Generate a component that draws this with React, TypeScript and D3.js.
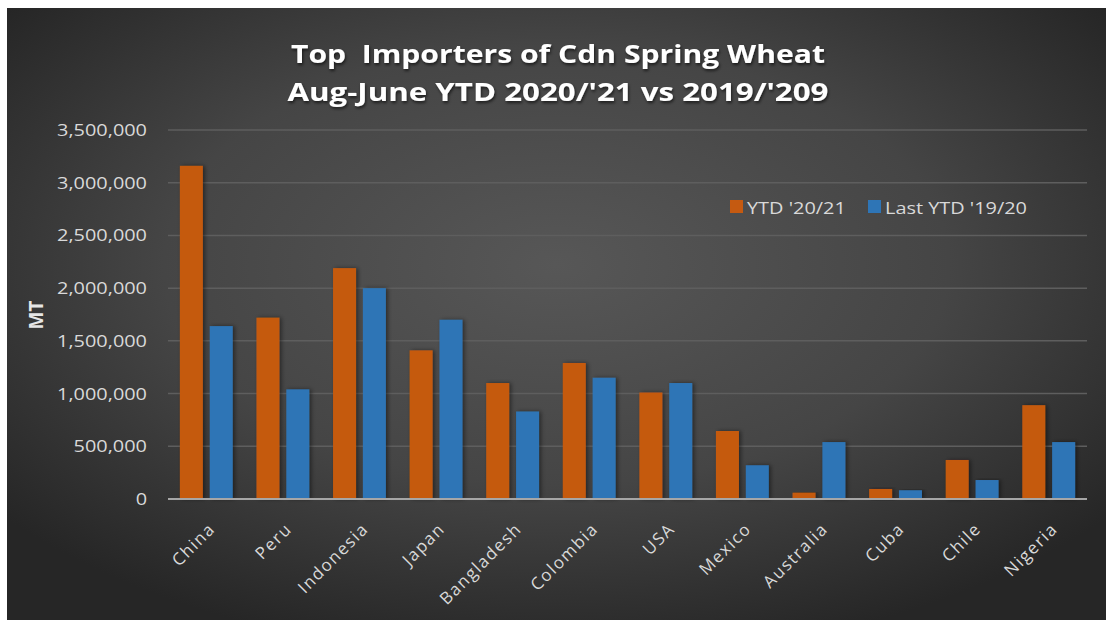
import React from "react";
import * as d3 from "d3";

const categories = ["China", "Peru", "Indonesia", "Japan", "Bangladesh", "Colombia", "USA", "Mexico", "Australia", "Cuba", "Chile", "Nigeria"];
const ytd2021 = [3160000, 1720000, 2190000, 1410000, 1100000, 1290000, 1010000, 645000, 60000, 95000, 370000, 890000];
const ytd1920 = [1640000, 1040000, 2000000, 1700000, 830000, 1150000, 1100000, 320000, 540000, 83000, 180000, 540000];
const seriesNames = ["YTD '20/21", "Last YTD '19/20"];
const seriesColors = ["#C55A11", "#2E75B6"];
const yTicks = [0, 500000, 1000000, 1500000, 2000000, 2500000, 3000000, 3500000];
const titleLines = ["Top  Importers of Cdn Spring Wheat", "Aug-June YTD 2020/'21 vs 2019/'209"];

const W = 1106;
const H = 620;
const SX = 1.17;

export default function App() {
  const x = d3.scaleBand<string>().domain(categories).range([168, 1087]).padding(0);
  const step = x.step();
  const sub = d3.scaleBand<string>().domain(seriesNames).range([step * 0.155, step * 0.845]).paddingInner(0.23);
  const y = d3.scaleLinear().domain([0, 3500000]).range([499, 130]);
  const fmt = d3.format(",");
  const series = [ytd2021, ytd1920];
  const font = "'Open Sans', 'DejaVu Sans', sans-serif";
  const titleLens = [534, 541];
  return (
    <svg width={W} height={H} style={{ position: "absolute", left: 0, top: 0 }}>
      <defs>
        <radialGradient id="bg" cx="50%" cy="42%" r="65%">
          <stop offset="0%" stopColor="#575757" />
          <stop offset="55%" stopColor="#454545" />
          <stop offset="100%" stopColor="#262626" />
        </radialGradient>
        <filter id="sh" x="-30%" y="-10%" width="160%" height="120%">
          <feDropShadow dx="2" dy="0" stdDeviation="2" floodColor="#000" floodOpacity="0.45" />
        </filter>
        <filter id="tsh" x="-10%" y="-30%" width="120%" height="160%">
          <feDropShadow dx="1" dy="2" stdDeviation="1.5" floodColor="#000" floodOpacity="0.6" />
        </filter>
      </defs>
      <rect x={0} y={0} width={W} height={H} fill="#ffffff" />
      <rect x={7} y={8} width={W - 7} height={H - 8} fill="url(#bg)" />
      {titleLines.map((t, i) => (
        <text
          key={i}
          x={558 - titleLens[i] / 2}
          y={63 + i * 38}
          textLength={titleLens[i]}
          lengthAdjust="spacingAndGlyphs"
          fill="#ffffff"
          fontFamily={font}
          fontWeight={700}
          fontSize={25}
          filter="url(#tsh)"
          style={{ whiteSpace: "pre" }}
        >
          {t}
        </text>
      ))}
      {yTicks.map((v) => (
        <g key={v}>
          {v > 0 && <line x1={168} x2={1087} y1={y(v)} y2={y(v)} stroke="#5e5e5e" strokeWidth={1.5} />}
          <text
            transform={`translate(147,${y(v) + 6}) scale(${SX},1)`}
            textAnchor="end"
            fill="#d9d9d9"
            fontFamily={font}
            fontSize={17}
          >
            {fmt(v)}
          </text>
        </g>
      ))}
      <text transform={`translate(43,315) rotate(-90)`} textAnchor="middle" fill="#e6e6e6" fontFamily={font} fontWeight={700} fontSize={19}>
        MT
      </text>
      {categories.map((c, i) => (
        <g key={c}>
          {series.map((s, j) => (
            <rect
              key={j}
              x={(x(c) as number) + (sub(seriesNames[j]) as number)}
              y={y(s[i])}
              width={sub.bandwidth()}
              height={y(0) - y(s[i])}
              fill={seriesColors[j]}
              filter="url(#sh)"
            />
          ))}
          <text
            transform={`translate(${(x(c) as number) + step / 2 + 10},${530}) rotate(-45)`}
            textAnchor="end"
            fill="#d9d9d9"
            fontFamily={font}
            fontSize={17}
            letterSpacing={1.5}
          >
            {c}
          </text>
        </g>
      ))}
      <line x1={168} x2={1087} y1={y(0)} y2={y(0)} stroke="#a6a6a6" strokeWidth={2} />
      {seriesNames.map((n, j) => {
        const lx = j === 0 ? 730 : 868;
        return (
          <g key={n}>
            <rect x={lx} y={200} width={13} height={13} fill={seriesColors[j]} />
            <text transform={`translate(${lx + 17},214) scale(${SX},1)`} fill="#d9d9d9" fontFamily={font} fontSize={17}>
              {n}
            </text>
          </g>
        );
      })}
    </svg>
  );
}
